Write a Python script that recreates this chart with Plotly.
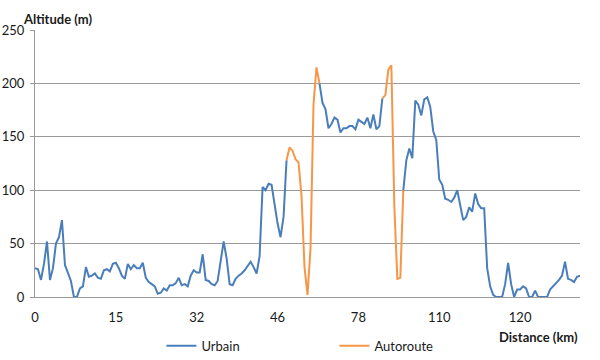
import plotly.graph_objects as go

# Altitude (m) per sample, in order along the route
altitude = [
    27, 26, 16, 31, 52, 16, 27, 50, 56, 72,
    30, 23, 15, 0, 0, 8, 10, 28, 19, 20,
    22, 18, 17, 25, 26, 24, 31, 32, 27, 20,
    17, 31, 26, 30, 27, 27, 32, 18, 14, 12,
    10, 3, 4, 8, 6, 11, 11, 13, 18, 11,
    12, 10, 20, 25, 23, 23, 40, 16, 15, 12,
    11, 15, 35, 52, 36, 12, 11, 17, 20, 22,
    25, 29, 33, 28, 22, 38, 103, 100, 106, 105,
    86, 69, 56, 75, 128, 140, 137, 129, 126, 95,
    28, 2, 45, 180, 215, 200, 182, 176, 158, 162,
    168, 166, 154, 158, 158, 160, 160, 157, 166, 164,
    162, 168, 158, 171, 157, 160, 186, 189, 213, 217,
    85, 17, 18, 100, 128, 139, 130, 184, 180, 170,
    185, 187, 178, 155, 147, 110, 105, 92, 91, 89,
    93, 100, 85, 72, 75, 84, 80, 97, 87, 83,
    83, 27, 10, 2, 0, 0, 0, 12, 32, 12,
    0, 7, 7, 10, 8, 0, 0, 6, 0, 0,
    0, 0, 7, 10, 13, 16, 20, 33, 17, 16,
    14, 19, 20,
]

# Sample index ranges (inclusive) driven on the motorway
autoroute_segments = [(84, 95), (116, 123)]

# Category tick positions (sample index) and their distance labels
tick_idx = [0, 27, 54, 81, 108, 135, 162]
tick_text = ["0", "15", "32", "46", "78", "110", "120"]

idx = list(range(len(altitude)))

def in_auto(i):
    return any(a <= i <= b for a, b in autoroute_segments)

def is_endpoint(i):
    return any(i == a or i == b for a, b in autoroute_segments)

urbain = [v if (not in_auto(i) or is_endpoint(i)) else None for i, v in enumerate(altitude)]
autoroute = [v if in_auto(i) else None for i, v in enumerate(altitude)]

FONT = "Lato"
TXT = "#1a1a1a"
GRID = "#9a9a9a"

fig = go.Figure()
fig.add_trace(go.Scatter(x=idx, y=urbain, mode="lines", name="Urbain",
                         line=dict(color="#4A7EBB", width=2)))
fig.add_trace(go.Scatter(x=idx, y=autoroute, mode="lines", name="Autoroute",
                         line=dict(color="#F79646", width=2)))

fig.update_layout(
    width=600, height=360,
    margin=dict(l=35, r=20, t=29.5, b=63, autoexpand=False),
    paper_bgcolor="white", plot_bgcolor="white",
    font=dict(family=FONT, size=13, color=TXT),
    showlegend=True,
    legend=dict(orientation="h", x=0.232, xanchor="left", y=-0.183, yanchor="middle",
                entrywidth=128, entrywidthmode="pixels", itemwidth=30,
                font=dict(family=FONT, size=13, color=TXT)),
    xaxis=dict(range=[0, len(altitude) - 1], tickmode="array", tickvals=tick_idx,
               ticktext=tick_text, showgrid=False, zeroline=False, automargin=False,
               showline=True, linecolor=GRID, linewidth=1, ticks="",
               ticklabelstandoff=8),
    yaxis=dict(range=[0, 250], tickmode="array", tickvals=[0, 50, 100, 150, 200, 250],
               showgrid=True, gridcolor=GRID, gridwidth=1, zeroline=False, automargin=False,
               showline=True, linecolor=GRID, linewidth=1,
               ticks="outside", ticklen=4, tickcolor=GRID, ticklabelstandoff=3),
    annotations=[
        dict(text="<b>Altitude (m)</b>", xref="paper", yref="paper",
             x=-0.026, y=1.043, xanchor="left", yanchor="middle", showarrow=False,
             font=dict(family=FONT, size=13, color=TXT)),
        dict(text="<b>Distance (km)</b>", xref="paper", yref="paper",
             x=1.0, y=-0.1495, xanchor="right", yanchor="middle", showarrow=False,
             font=dict(family=FONT, size=13, color=TXT)),
    ],
)

fig.write_html("out.html", config={"displayModeBar": False},
               post_script="document.body.style.margin='0';")
